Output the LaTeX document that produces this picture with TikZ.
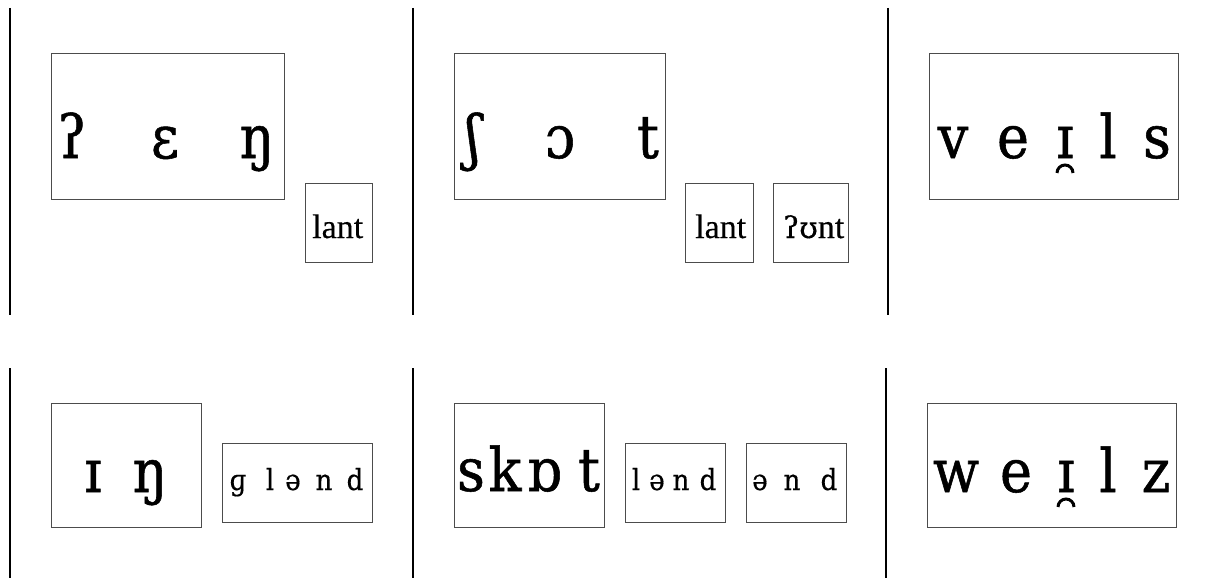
\documentclass[tikz,border=0pt]{standalone}
\usepackage{fontspec}
\setmainfont{DejaVu Serif}
\newfontfamily\lib{Liberation Serif}[FakeBold=0.4]
\newfontfamily\dvs{DejaVu Serif}[FakeBold=0.4]
\newfontfamily\bigipa{DejaVu Serif}[FakeBold=0.9, FakeStretch=0.9]
\newfontfamily\smallipa{DejaVu Serif}[FakeBold=0.5, FakeStretch=0.9]
\tikzset{
  boxline/.style={draw=black!70, line width=1pt},
  sepline/.style={line width=1.6pt},
  breve/.style={line width=3pt},
  big/.style={font=\bigipa\fontsize{60}{62}\selectfont, anchor=base, inner sep=0pt},
  small/.style={font=\smallipa\fontsize{29}{30}\selectfont, anchor=base, inner sep=0pt},
  lat/.style={font=\lib\fontsize{34}{36}\selectfont, anchor=base, inner sep=0pt},
}
\begin{document}
\begin{tikzpicture}[x=1pt,y=-1pt]
\useasboundingbox (0,0) rectangle (1211,578);
% separators
\foreach \x [count=\i] in {10,413,888} {
  \coordinate (t\i a) at (\x,8); \coordinate (t\i b) at (\x,315);
  \draw[sepline] (t\i a) -- (t\i b);
}
\foreach \x [count=\i] in {10,413,886} {
  \coordinate (u\i a) at (\x,368); \coordinate (u\i b) at (\x,578);
  \draw[sepline] (u\i a) -- (u\i b);
}
% boxes row 1
\draw[boxline] (51,54) rectangle (284,199);
\draw[boxline] (305,183) rectangle (372,262);
\draw[boxline] (454,54) rectangle (665,199);
\draw[boxline] (685,183) rectangle (753,262);
\draw[boxline] (773,183) rectangle (848,262);
\draw[boxline] (929,54) rectangle (1178,199);
% boxes row 2
\draw[boxline] (51,403) rectangle (201,527);
\draw[boxline] (222,443) rectangle (372,522);
\draw[boxline] (454,403) rectangle (604,527);
\draw[boxline] (625,443) rectangle (725,522);
\draw[boxline] (746,443) rectangle (846,522);
\draw[boxline] (927,403) rectangle (1176,527);
% row 1 texts
\foreach \x/\c [count=\i] in {72/ʔ,165/ɛ,257/ŋ}
  \node[big, name=pa\i] at (\x,158) {\c};
\foreach \x/\c [count=\i] in {473/ʃ,560/ɔ,648/t}
  \node[big, name=pb\i] at (\x,158) {\c};
\foreach \x/\c [count=\i] in {953/v,1013/e,1065/ɪ,1108/l,1157/s}
  \node[big, name=pc\i] at (\x,158) {\c};
\draw[breve] (1057,173) arc[start angle=180, end angle=360, radius=8];
\node[lat, anchor=base west] (la1) at (312,238) {lant};
\node[lat, anchor=base west] (la2) at (695,238) {lant};
\node[lat, anchor=base west] (la3) at (783,238) {{\dvs\fontsize{30}{32}\selectfont ʔʊ}nt};
% row 2 texts
\foreach \x/\c [count=\i] in {93/ɪ,150/ŋ}
  \node[big, name=qa\i] at (\x,492) {\c};
\foreach \x/\c [count=\i] in {238/ɡ,270/l,293/ə,324/n,355/d}
  \node[small, name=qb\i] at (\x,490) {\c};
\foreach \x/\c [count=\i] in {471/s,505/k,544/ɒ,589/t}
  \node[big, name=qc\i] at (\x,491) {\c};
\foreach \x/\c [count=\i] in {636/l,657/ə,681/n,708/d}
  \node[small, name=qd\i] at (\x,490) {\c};
\foreach \x/\c [count=\i] in {760/ə,792/n,829/d}
  \node[small, name=qe\i] at (\x,490) {\c};
\foreach \x/\c [count=\i] in {956/w,1016/e,1066/ɪ,1108/l,1156/z}
  \node[big, name=qf\i] at (\x,492) {\c};
\draw[breve] (1058,507) arc[start angle=180, end angle=360, radius=8];
\end{tikzpicture}
\end{document}
